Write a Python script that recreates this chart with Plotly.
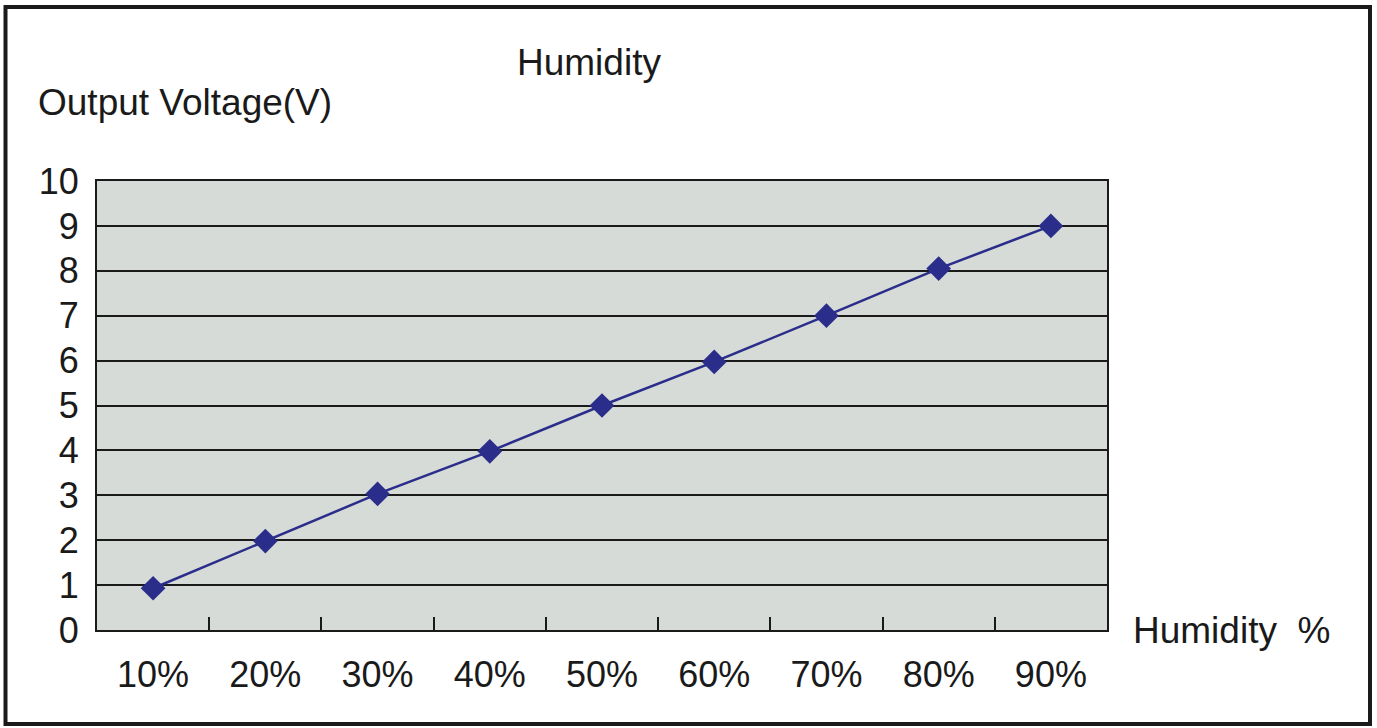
import plotly.graph_objects as go

categories = ["10%", "20%", "30%", "40%", "50%", "60%", "70%", "80%", "90%"]
voltage = [0.93, 1.98, 3.03, 3.98, 5.0, 5.97, 7.0, 8.05, 9.0]
y_ticks = [0, 1, 2, 3, 4, 5, 6, 7, 8, 9, 10]

W, H = 1377, 728
L, R, T, B = 97, 1107, 181, 630
FONT = "Liberation Sans, Arial, sans-serif"
TXT = "#1a1a1a"
TICK_SIZE = 36
ANN_SIZE = 37

fig = go.Figure()
fig.add_trace(go.Scatter(
    x=categories, y=voltage, mode="lines+markers",
    line=dict(color="#2a2d8a", width=2.5),
    marker=dict(symbol="diamond", size=19, color="#2a2d8a"),
    showlegend=False, hoverinfo="skip",
))

pw, ph = R - L, B - T
def px(x):
    return (x - L) / pw
def py(y):
    return (B - y) / ph

fig.update_layout(
    width=W, height=H,
    margin=dict(l=L, r=W - R, t=T, b=H - B, autoexpand=False),
    paper_bgcolor="white", plot_bgcolor="#d6dbd8",
    font=dict(family=FONT, size=TICK_SIZE, color=TXT),
    xaxis=dict(
        type="category", range=[-0.5, 8.5],
        showline=True, mirror=True, linecolor="#1a1a1a", linewidth=2,
        ticks="inside", ticklen=13, tickwidth=2, tickcolor="#1a1a1a",
        tickson="boundaries", showgrid=False,
        tickfont=dict(size=TICK_SIZE, color=TXT), ticklabelstandoff=12,
    ),
    yaxis=dict(
        range=[0, 10], tickvals=y_ticks,
        showline=True, mirror=True, linecolor="#1a1a1a", linewidth=2,
        showgrid=True, gridcolor="#1a1a1a", gridwidth=2,
        ticks="", zeroline=False,
        tickfont=dict(size=TICK_SIZE, color=TXT), ticklabelstandoff=9,
    ),
    shapes=[dict(
        type="rect", xref="paper", yref="paper",
        x0=px(5.5), x1=px(1370), y0=py(724), y1=py(7),
        line=dict(color="#1a1a1a", width=4), fillcolor="rgba(0,0,0,0)", layer="above",
    )],
    annotations=[
        dict(text="Humidity", xref="paper", yref="paper", x=px(589), y=py(62),
             xanchor="center", yanchor="middle", showarrow=False,
             font=dict(size=ANN_SIZE, color=TXT)),
        dict(text="Output Voltage(V)", xref="paper", yref="paper", x=px(36), y=py(103),
             xanchor="left", yanchor="middle", showarrow=False,
             font=dict(size=ANN_SIZE, color=TXT)),
        dict(text="Humidity&nbsp;&nbsp;%", xref="paper", yref="paper", x=px(1131), y=py(630),
             xanchor="left", yanchor="middle", showarrow=False,
             font=dict(size=ANN_SIZE, color=TXT)),
    ],
)

fig.write_html(
    "out.html",
    config={"displayModeBar": False},
    post_script="document.body.style.margin='0';document.body.style.overflow='hidden';",
)
